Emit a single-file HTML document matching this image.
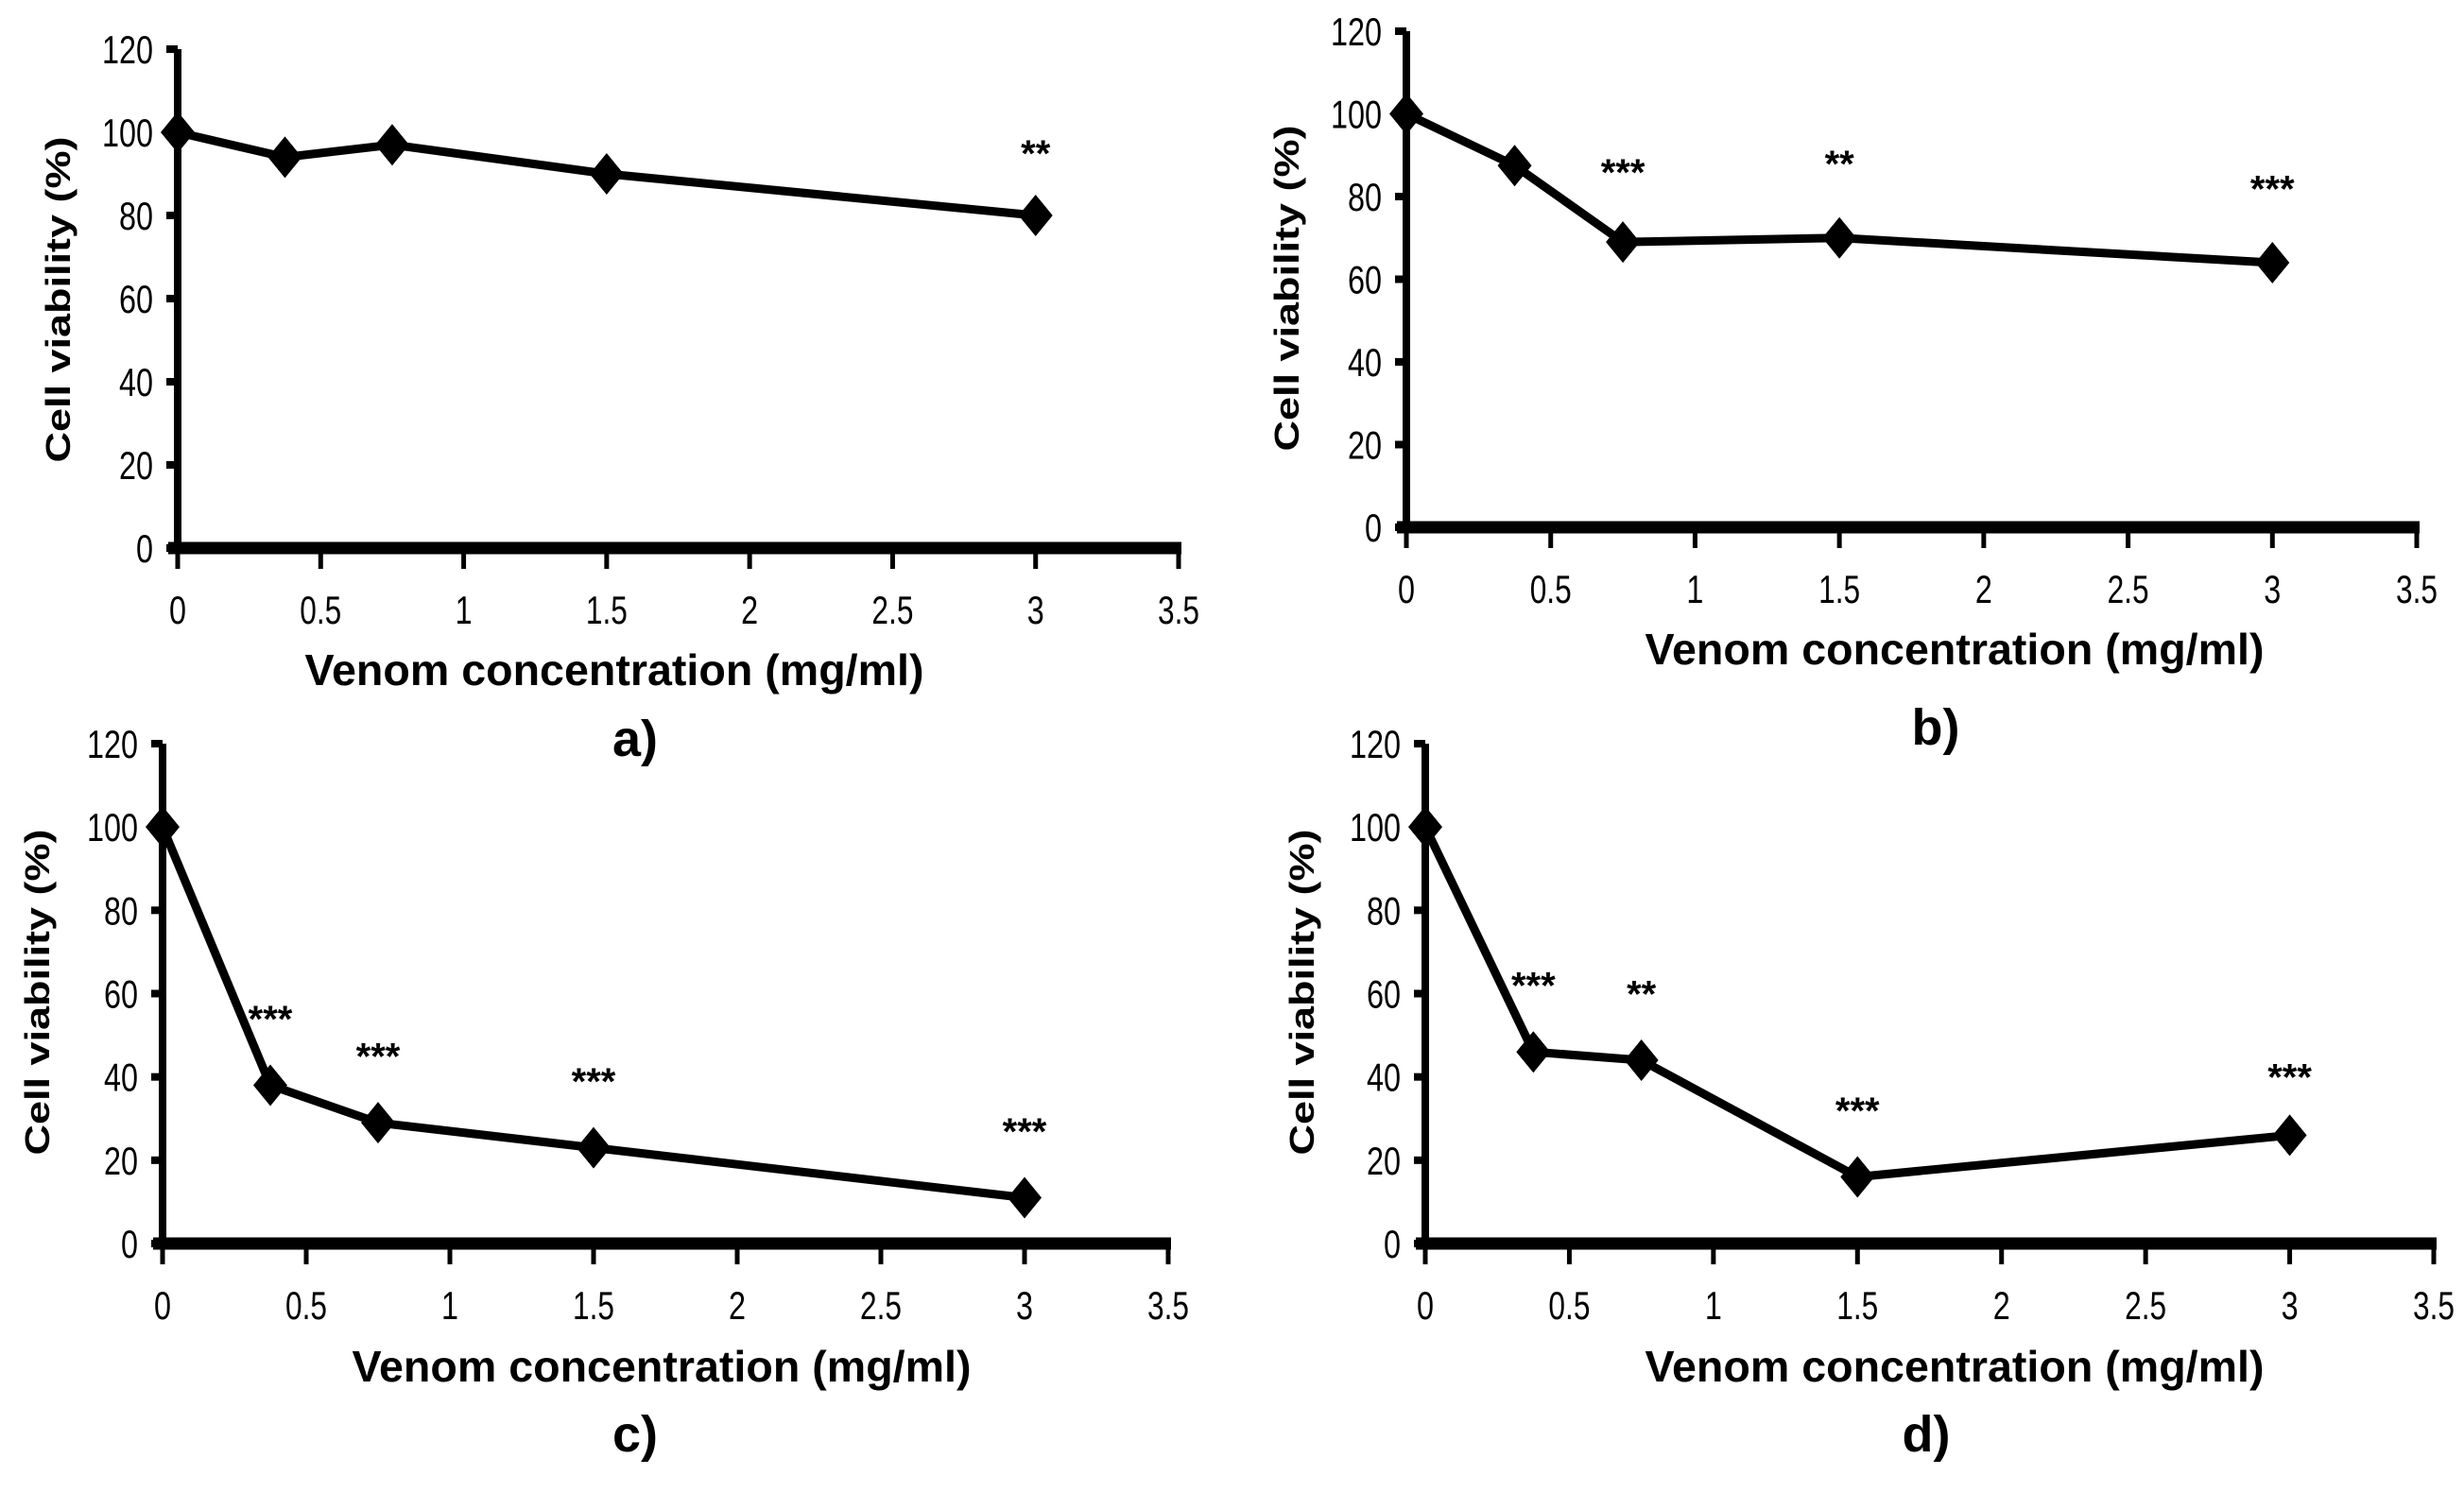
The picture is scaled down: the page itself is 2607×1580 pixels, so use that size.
<!DOCTYPE html>
<html><head><meta charset="utf-8"><style>
html,body{margin:0;padding:0;background:#fff;}
svg text{font-family:"Liberation Sans Narrow","Liberation Sans",sans-serif;fill:#000;}
</style></head><body>
<svg id="fig" width="2607" height="1575" viewBox="0 0 2607 1575" xmlns="http://www.w3.org/2000/svg"></svg>
<script>
const concentrations = [0, 0.375, 0.75, 1.5, 3];
const viabilityA = [100, 94, 97, 90, 80];
const viabilityB = [100, 87.5, 69, 70, 64];
const viabilityC = [100, 38, 29, 23, 11];
const viabilityD = [100, 46, 44, 16, 26];
const starsA = ["", "", "", "", "**"];
const starsB = ["", "", "***", "**", "***"];
const starsC = ["", "***", "***", "***", "***"];
const starsD = ["", "***", "**", "***", "***"];
const starLevelA = [0, 0, 0, 0, 95];
const starLevelB = [0, 0, 86, 88, 82];
const starLevelC = [0, 54, 45, 39, 27];
const starLevelD = [0, 62, 60, 32, 40];
const xTicks = [0, 0.5, 1, 1.5, 2, 2.5, 3, 3.5];
const xTickLabels = ["0","0.5","1","1.5","2","2.5","3","3.5"];
const yTicks = [0, 20, 40, 60, 80, 100, 120];
const yTickLabels = ["0","20","40","60","80","100","120"];

const NS = "http://www.w3.org/2000/svg";
const svg = document.getElementById('fig');
function mk(tag, attrs, parent){
  const e = document.createElementNS(NS, tag);
  for (const k in attrs) e.setAttribute(k, attrs[k]);
  (parent||svg).appendChild(e);
  return e;
}
function tlen(s){ let n=0; for (const ch of s) n += (ch==='.') ? 8 : 18; return n; }
const panels = [
  {id:'a', x0:188, y0:580, x35:1247, y120:52, vals:viabilityA, stars:starsA, lv:starLevelA, tx:650, ty:725, lx:672, ly:800, yx:62, yy:317},
  {id:'b', x0:1488, y0:558, x35:2557, y120:33, vals:viabilityB, stars:starsB, lv:starLevelB, tx:2068, ty:703, lx:2048, ly:788, yx:1362, yy:305},
  {id:'c', x0:172, y0:1316, x35:1236, y120:787, vals:viabilityC, stars:starsC, lv:starLevelC, tx:700, ty:1462, lx:672, ly:1536, yx:40, yy:1050},
  {id:'d', x0:1508, y0:1316, x35:2575, y120:787, vals:viabilityD, stars:starsD, lv:starLevelD, tx:2068, ty:1462, lx:2038, ly:1536, yx:1378, yy:1050}
];
panels.forEach(p => {
  const g = mk('g', {});
  
  
  const sx = v => p.x0 + (p.x35 - p.x0) * v / 3.5;
  const sy = v => p.y0 - (p.y0 - p.y120) * v / 120;
  const ya = mk('line', {x1:p.x0, y1:sy(120), x2:p.x0, y2:p.y0, stroke:'#000','stroke-width':8}, g);
  
  
  yTicks.forEach((t,i) => {
    mk('line', {x1:p.x0-12, y1:sy(t), x2:p.x0, y2:sy(t), stroke:'#000','stroke-width':8}, g);
    const tl = mk('text', {x:p.x0-26, y:sy(t)+15, 'font-size':42, 'text-anchor':'end', textLength:tlen(yTickLabels[i]), lengthAdjust:'spacingAndGlyphs'}, g);
    tl.textContent = yTickLabels[i];
    
    
  });
  const xa = mk('line', {x1:p.x0-10, y1:p.y0, x2:sx(3.5)+3, y2:p.y0, stroke:'#000','stroke-width':13}, g);
  
  
  xTicks.forEach((t,i) => {
    mk('line', {x1:sx(t), y1:p.y0, x2:sx(t), y2:p.y0+22, stroke:'#000','stroke-width':5}, g);
    const tl = mk('text', {x:sx(t), y:p.y0+80, 'font-size':42, 'text-anchor':'middle', textLength:tlen(xTickLabels[i]), lengthAdjust:'spacingAndGlyphs'}, g);
    tl.textContent = xTickLabels[i];
    
    
  });
  const pts = concentrations.map((c,i) => sx(c) + ',' + sy(p.vals[i])).join(' ');
  const line = mk('polyline', {points:pts, fill:'none', stroke:'#000', 'stroke-width':9, 'stroke-linejoin':'round'}, g);
  
  
  concentrations.forEach((c,i) => {
    const x = sx(c), y = sy(p.vals[i]);
    const m = mk('polygon', {points:`${x},${y-22} ${x+18},${y} ${x},${y+22} ${x-18},${y}`, fill:'#000'}, g);
    
    
    if (p.stars[i]) {
      const s = mk('text', {x:x, y:sy(p.lv[i])+14, 'font-size':40, 'font-weight':'bold', 'text-anchor':'middle', 'font-family':'"Liberation Sans",sans-serif'}, g);
      s.textContent = p.stars[i];
      
      
    }
  });
  const xt = mk('text', {x:p.tx, y:p.ty, 'font-size':46, 'font-weight':'bold', 'text-anchor':'middle', textLength:655, lengthAdjust:'spacingAndGlyphs'}, g);
  xt.textContent = 'Venom concentration (mg/ml)';
  
  
  const yt = mk('text', {x:0, y:0, 'font-size':36, 'font-weight':'bold', 'text-anchor':'middle', textLength:345, lengthAdjust:'spacingAndGlyphs', transform:`translate(${p.yx+12},${p.yy}) rotate(-90)`, 'font-family':'"Liberation Sans",sans-serif'}, g);
  yt.textContent = 'Cell viability (%)';
  
  
  const pl = mk('text', {x:p.lx, y:p.ly, 'font-size':54, 'font-weight':'bold', 'text-anchor':'middle', 'font-family':'"Liberation Sans",sans-serif'}, g);
  pl.textContent = p.id + ')';
  
  
});
</script>
</body></html>
